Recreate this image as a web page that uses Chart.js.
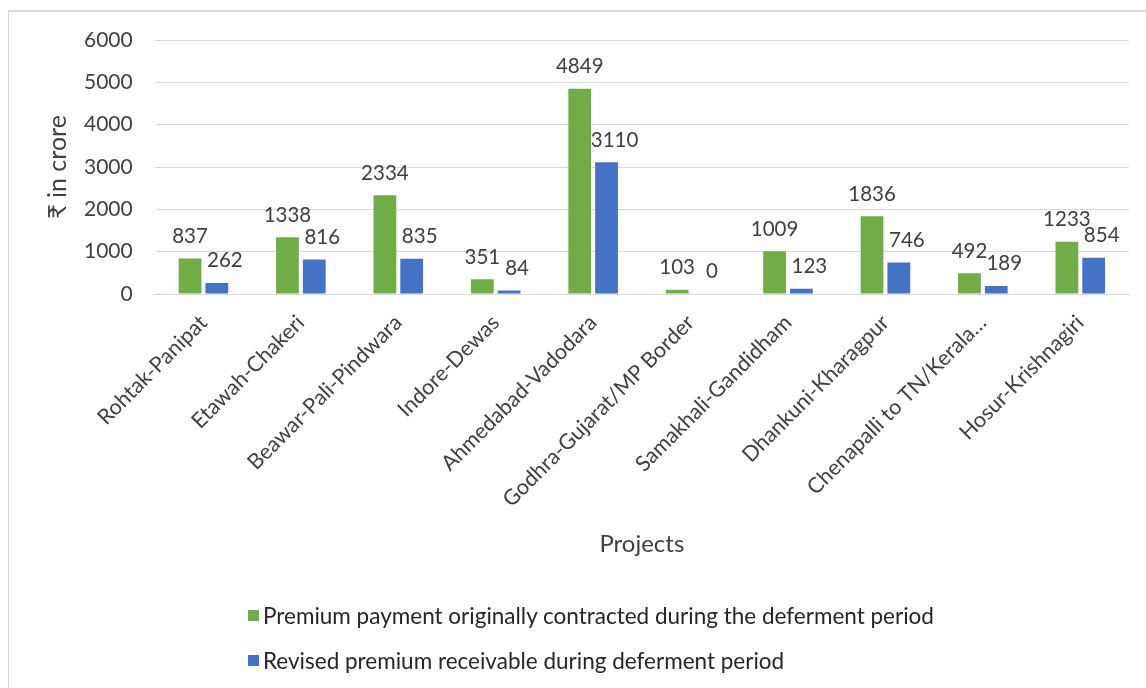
<!DOCTYPE html>
<html>
<head>
<meta charset="utf-8">
<script src="https://cdn.jsdelivr.net/npm/chart.js@4"></script>
<style>
    body { margin: 0; background: #fff; font-family: Lato, "Noto Sans", sans-serif; }
    #wrap { position: relative; width: 1146px; height: 688px; overflow: hidden; }
    #frame { position: absolute; left: 8px; top: 10px; right: 0; bottom: 0;
             border-left: 1px solid #d9d9d9; border-top: 2px solid #d9d9d9; }
    #legend { position: absolute; left: 248px; top: 593px; color: #262626; font-size: 22.5px; }
    #legend div { height: 45px; display: flex; align-items: center; }
    #legend span.box { display: inline-block; width: 11px; height: 11px; margin-right: 4px; }
</style>
</head>
<body>
<div id="wrap">
    <div id="frame"></div>
    <canvas id="grafico" width="1146" height="688"></canvas>
    <div id="legend"></div>
</div>
<script>
const projetos = ['Rohtak-Panipat', 'Etawah-Chakeri', 'Beawar-Pali-Pindwara', 'Indore-Dewas',
    'Ahmedabad-Vadodara', 'Godhra-Gujarat/MP Border', 'Samakhali-Gandidham',
    'Dhankuni-Kharagpur', 'Chenapalli to TN/Kerala…', 'Hosur-Krishnagiri'];
const premioOriginal = [837, 1338, 2334, 351, 4849, 103, 1009, 1836, 492, 1233];
const premioRevisado = [262, 816, 835, 84, 3110, 0, 123, 746, 189, 854];
const nomesSeries = ['Premium payment originally contracted during the deferment period',
    'Revised premium receivable during deferment period'];
const cores = ['#70AD47', '#4472C4'];

const canvas = document.getElementById("grafico");
const fonte = 'Lato, "Noto Sans", sans-serif';

// escreve o valor em cima de cada barra
const rotulos = {
    id: 'rotulos',
    afterDatasetsDraw(chart) {
        const ctx = chart.ctx;
        ctx.save();
        ctx.font = '20.5px ' + fonte;
        ctx.fillStyle = '#404040';
        ctx.textAlign = 'center';
        ctx.textBaseline = 'bottom';
        chart.data.datasets.forEach((ds, i) => {
            chart.getDatasetMeta(i).data.forEach((bar, j) => {
                let dx = i == 1 ? 8 : 0;
                ctx.fillText(ds.data[j], bar.x + dx, bar.y - 12);
            });
        });
        ctx.restore();
    }
};

new Chart(canvas, {
    type: 'bar',
    data: {
        labels: projetos,
        datasets: [{
            label: nomesSeries[0],
            data: premioOriginal,
            backgroundColor: cores[0],
            categoryPercentage: 0.55,
            barPercentage: 0.85
        }, {
            label: nomesSeries[1],
            data: premioRevisado,
            backgroundColor: cores[1],
            categoryPercentage: 0.55,
            barPercentage: 0.85
        }]
    },
    options: {
        responsive: false,
        animation: false,
        layout: { padding: { top: 40, right: 17, bottom: 125, left: 43 } },
        plugins: {
            legend: { display: false },
            tooltip: { enabled: false }
        },
        scales: {
            x: {
                grid: { display: false },
                border: { color: '#d9d9d9' },
                ticks: {
                    color: '#404040',
                    font: { family: fonte, size: 21.5 },
                    minRotation: 45,
                    maxRotation: 45,
                    autoSkip: false,
                    padding: 8
                },
                title: {
                    display: true,
                    text: 'Projects',
                    color: '#404040',
                    font: { family: fonte, size: 24 },
                    padding: { top: 21 }
                },
                // o primeiro rótulo inclinado não deve empurrar a área do gráfico,
                // e a altura do eixo não pode ser cortada pela metade
                afterFit: scale => {
                    scale.paddingLeft = 0;
                    scale.height = 269;
                }
            },
            y: {
                min: 0,
                max: 6000,
                grid: { color: '#d9d9d9', drawTicks: false },
                border: { display: false },
                ticks: {
                    stepSize: 1000,
                    color: '#404040',
                    font: { family: fonte, size: 21 },
                    padding: 22,
                    callback: v => v
                },
                title: {
                    display: true,
                    text: '₹ in crore',
                    color: '#404040',
                    font: { family: fonte, size: 25 },
                    padding: { top: 0, bottom: -11 }
                }
            }
        }
    },
    plugins: [rotulos]
});

const legenda = document.getElementById("legend");
nomesSeries.forEach((nome, i) => {
    const linha = document.createElement("div");
    linha.innerHTML = '<span class="box" style="background:' + cores[i] + '"></span>' + nome;
    legenda.appendChild(linha);
});
</script>
</body>
</html>
